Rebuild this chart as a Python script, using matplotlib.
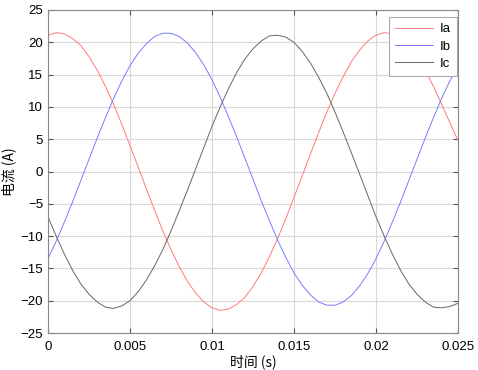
"""
Three-phase stator current waveforms (Ia, Ib, Ic) over 0-0.025 s.
"""

import matplotlib
matplotlib.use("Agg")
import matplotlib.pyplot as plt
from matplotlib.ticker import FuncFormatter
import numpy as np

# time base, 0.5 ms steps
t = np.arange(51) * 0.0005

ia = [21.1, 21.5, 21.3, 20.6, 19.5, 17.8, 15.7, 13.2, 10.4, 7.3,
      4.0, 0.7, -2.7, -6.0, -9.2, -12.1, -14.7, -17.0, -18.8, -20.2,
      -21.1, -21.5, -21.3, -20.6, -19.5, -17.8, -15.7, -13.2, -10.4, -7.3,
      -4.0, -0.7, 2.7, 6.0, 9.2, 12.1, 14.7, 17.0, 18.8, 20.2,
      21.1, 21.5, 21.3, 20.6, 19.5, 17.8, 15.7, 13.2, 10.4, 7.6,
      4.8]
ib = [-13.5, -10.8, -7.8, -4.7, -1.4, 1.9, 5.2, 8.3, 11.3, 14.0,
      16.4, 18.3, 19.8, 20.9, 21.4, 21.4, 20.9, 19.9, 18.4, 16.5,
      14.2, 11.5, 8.5, 5.4, 2.1, -1.2, -4.5, -7.6, -10.6, -13.3,
      -15.7, -17.6, -19.1, -20.2, -20.7, -20.7, -20.2, -19.2, -17.7, -15.8,
      -13.5, -10.8, -7.8, -4.7, -1.4, 1.9, 5.2, 8.3, 11.3, 14.0,
      16.2]
ic = [-7.0, -10.0, -12.8, -15.3, -17.4, -19.0, -20.2, -21.0, -21.2, -20.8,
      -20.0, -18.6, -16.8, -14.6, -12.1, -9.2, -6.1, -2.9, 0.4, 3.7,
      7.0, 10.0, 12.8, 15.3, 17.4, 19.0, 20.2, 21.0, 21.1, 20.8,
      20.0, 18.6, 16.8, 14.6, 12.1, 9.2, 6.1, 2.9, -0.4, -3.7,
      -7.0, -10.0, -12.8, -15.3, -17.4, -19.0, -20.2, -21.0, -21.1, -20.9,
      -20.4]

labels = ["Ia", "Ib", "Ic"]
colors = ["#ff7a7a", "#7a7aff", "#666666"]

plt.rcParams["font.family"] = ["Liberation Sans", "DejaVu Sans"]
cjk = ["Noto Sans CJK SC", "Liberation Sans"]

fig = plt.figure(figsize=(4.78, 3.70), dpi=100)
ax = fig.add_axes([48 / 478, 37 / 370, 410 / 478, 323 / 370])

for y, lab, c in zip([ia, ib, ic], labels, colors):
    ax.plot(t, y, color=c, linewidth=0.7, label=lab)

ax.set_xlim(0, 0.025)
ax.set_ylim(-25, 25)
ax.set_xticks(np.arange(0, 0.0251, 0.005))
ax.set_yticks(np.arange(-25, 26, 5))
ax.xaxis.set_major_formatter(FuncFormatter(lambda v, p: "%g" % round(v, 4)))
ax.tick_params(direction="in", top=True, right=True, length=3.5,
               labelsize=9.5, color="#555555")
ax.tick_params(axis="x", pad=6)
ax.grid(True, color="#d8d8d8", linewidth=0.8)
for s in ax.spines.values():
    s.set_color("#888888")
    s.set_linewidth(0.8)

ax.set_xlabel("时间 (s)", family=cjk, fontsize=10, labelpad=1)
ax.set_ylabel("电流 (A)", family=cjk, fontsize=10, labelpad=3)

leg = ax.legend(loc="upper right", bbox_to_anchor=(0.9976, 0.978),
                fontsize=9.5, fancybox=False, framealpha=1,
                edgecolor="#aaaaaa", handlelength=2.9, borderaxespad=0,
                handletextpad=0.5, labelspacing=0.38, borderpad=0.45)
leg.get_frame().set_linewidth(0.8)

fig.savefig("out.png", dpi=100)
